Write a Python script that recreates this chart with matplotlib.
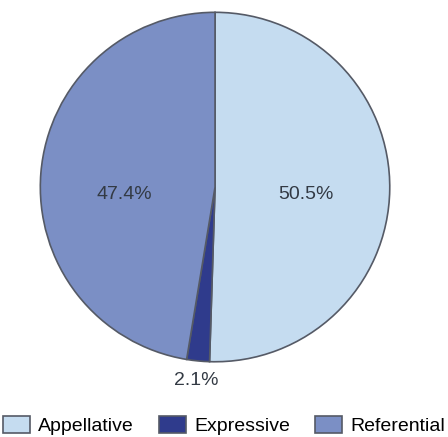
import matplotlib.pyplot as plt
import numpy as np

plt.rcParams['font.family'] = ['Liberation Sans', 'DejaVu Sans']

categories = ["Appellative", "Expressive", "Referential"]
shares = [50.5, 2.1, 47.4]
colors = ["#c5dcf0", "#2f3b8c", "#7b8fc5"]

fig = plt.figure(figsize=(4.48, 4.37), dpi=100)
ax = fig.add_axes([0.09, 0.172, 0.78, 0.80])

wedges, texts, autotexts = ax.pie(shares, colors=colors, startangle=90, counterclock=False,
                                  autopct='%1.1f%%', pctdistance=0.5,
                                  wedgeprops=dict(edgecolor="#555a66", linewidth=1.2),
                                  textprops=dict(fontsize=14, color="#333a44"))
ax.set_xlim(-1, 1)
ax.set_ylim(-1, 1)
ax.set_aspect('equal')

# small slice label sits outside, big ones level just under the centre
for w, t, v in zip(wedges, autotexts, shares):
    ang = np.deg2rad((w.theta1 + w.theta2) / 2)
    if v < 5:
        t.set_position((1.11 * np.cos(ang), 1.11 * np.sin(ang)))
    else:
        x, y = t.get_position()
        t.set_position((x * 1.04, -0.04))

fig.legend(wedges, categories, loc='lower center', bbox_to_anchor=(0.5, -0.018), ncol=3,
           frameon=False, fontsize=14, handlelength=1.4, handleheight=0.9,
           handletextpad=0.4, columnspacing=1.3, borderaxespad=0.1)

fig.savefig("out.png", dpi=100)
